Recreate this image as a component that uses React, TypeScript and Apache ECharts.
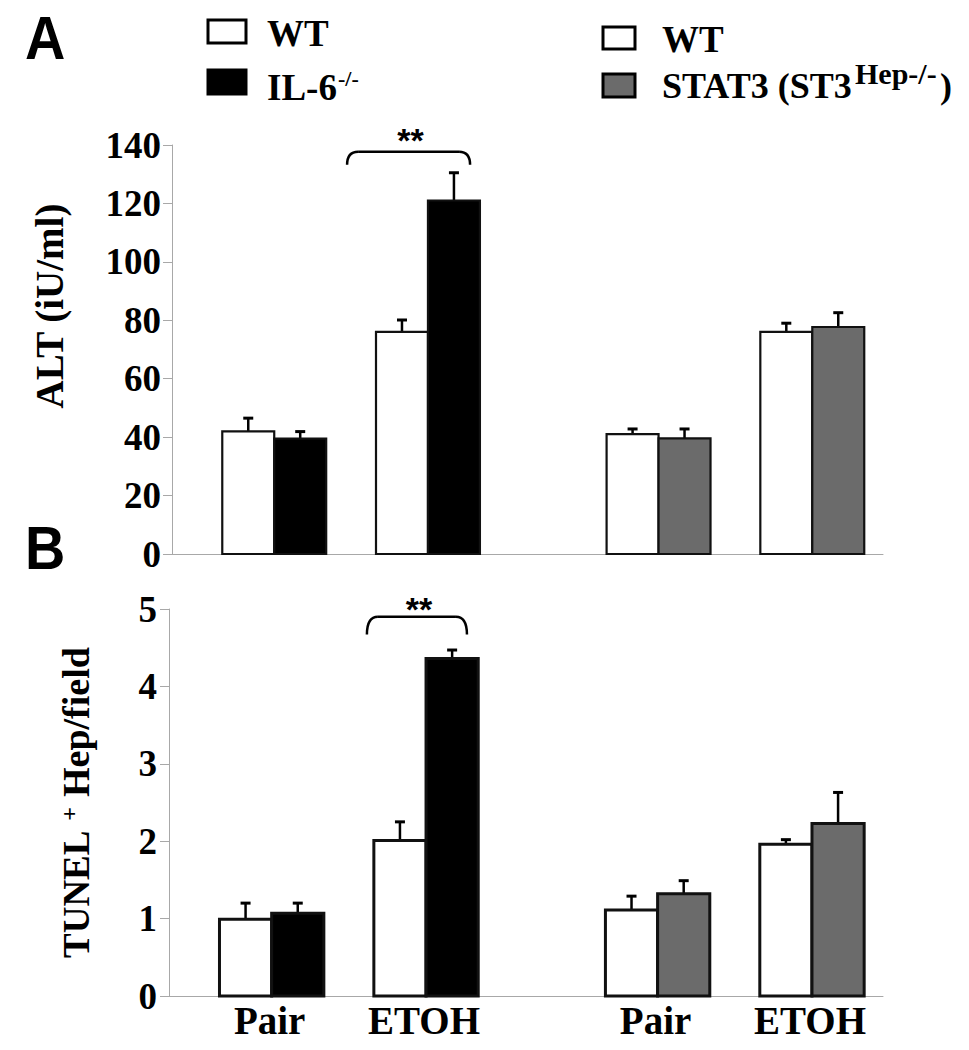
import React, { useEffect, useRef } from "react";
import * as echarts from "echarts";

// ---------- data ----------
const categories = ["Pair", "ETOH", "Pair", "ETOH"];
const groupPos = [1, 2, 3.5, 4.5];

// Panel A: ALT (iU/ml)
const altWT = [42, 76, 41, 76];
const altWTErr = [4.5, 4.1, 1.8, 3.0];
const altIL6 = [39.5, 121];
const altIL6Err = [2.4, 9.5];
const altSTAT3 = [39.6, 77.7];
const altSTAT3Err = [3.2, 4.9];

// Panel B: TUNEL+ Hep/field
const tunelWT = [0.99, 2.01, 1.11, 1.96];
const tunelWTErr = [0.21, 0.24, 0.18, 0.06];
const tunelIL6 = [1.07, 4.36];
const tunelIL6Err = [0.13, 0.11];
const tunelSTAT3 = [1.32, 2.23];
const tunelSTAT3Err = [0.17, 0.4];

// significance brackets: [xStart, xEnd, yLine, yEnd]
const sigA = [1.474, 2.274, 137.7, 133.2];
const sigB = [1.617, 2.265, 4.9, 4.67];

const altAxis = { min: 0, max: 140, interval: 20 };
const tunelAxis = { min: 0, max: 5, interval: 1 };

// ---------- styling ----------
const SERIF = '"Liberation Serif", "Times New Roman", serif';
const SANS = '"Liberation Sans", Arial, sans-serif';
const BAR_W = 0.338;
const X_MIN = 0.335;
const X_MAX = 4.96;
const AXIS_GRAY = "#a8a8a8";
const GRAY_FILL = "#6b6b6b";

function barSeries(
  name: string,
  gi: number,
  pos: number[],
  vals: number[],
  errs: number[],
  side: number,
  fill: string,
  lw: number
) {
  return {
    type: "custom",
    name,
    xAxisIndex: gi,
    yAxisIndex: gi,
    clip: false,
    encode: { x: 0, y: 1 },
    data: pos.map((p, i) => [p, vals[i], errs[i]]),
    renderItem: (params: any, api: any) => {
      const p = api.value(0);
      const v = api.value(1);
      const e = api.value(2);
      const x0 = side < 0 ? p - BAR_W : p;
      const x1 = x0 + BAR_W;
      const tl = api.coord([x0, v]);
      const br = api.coord([x1, 0]);
      const et = api.coord([(x0 + x1) / 2, v + e]);
      return {
        type: "group",
        children: [
          {
            type: "line",
            shape: { x1: et[0], y1: tl[1], x2: et[0], y2: et[1] },
            style: { stroke: "#000", lineWidth: 2.5 },
          },
          {
            type: "line",
            shape: { x1: et[0] - 5, y1: et[1], x2: et[0] + 5, y2: et[1] },
            style: { stroke: "#000", lineWidth: 3 },
          },
          {
            type: "rect",
            shape: { x: tl[0], y: tl[1], width: br[0] - tl[0], height: br[1] - tl[1] },
            style: { fill, stroke: "#111", lineWidth: lw },
          },
        ],
      };
    },
  };
}

function bracketSeries(gi: number, sig: number[], labelOffset: number) {
  return {
    type: "custom",
    xAxisIndex: gi,
    yAxisIndex: gi,
    clip: false,
    silent: true,
    data: [sig],
    renderItem: (params: any, api: any) => {
      const a = api.coord([api.value(0), api.value(3)]);
      const b = api.coord([api.value(0), api.value(2)]);
      const c = api.coord([api.value(1), api.value(2)]);
      const d = api.coord([api.value(1), api.value(3)]);
      const r = 11;
      const st = { stroke: "#000", lineWidth: 2.5, fill: "none" };
      return {
        type: "group",
        children: [
          {
            type: "bezierCurve",
            shape: { x1: a[0], y1: a[1], x2: a[0] + r, y2: b[1], cpx1: a[0], cpy1: b[1] },
            style: st,
          },
          {
            type: "line",
            shape: { x1: a[0] + r, y1: b[1], x2: d[0] - r, y2: c[1] },
            style: st,
          },
          {
            type: "bezierCurve",
            shape: { x1: d[0] - r, y1: c[1], x2: d[0], y2: d[1], cpx1: d[0], cpy1: c[1] },
            style: st,
          },
          {
            type: "text",
            x: (b[0] + c[0]) / 2 + 2,
            y: b[1] + labelOffset,
            style: {
              text: "**",
              fontFamily: SANS,
              fontWeight: "bold",
              fontSize: 34,
              fill: "#000",
              align: "center",
              verticalAlign: "middle",
            },
          },
        ],
      };
    },
  };
}

function categoryLabelSeries(gi: number) {
  return {
    type: "custom",
    xAxisIndex: gi,
    yAxisIndex: gi,
    clip: false,
    silent: true,
    data: groupPos.map((p) => [p, 0]),
    renderItem: (params: any, api: any) => {
      const pt = api.coord([api.value(0), 0]);
      return {
        type: "text",
        x: pt[0] - 2,
        y: pt[1] + 24,
        style: {
          text: categories[params.dataIndex],
          fontFamily: SERIF,
          fontWeight: "bold",
          fontSize: 39,
          fill: "#000",
          align: "center",
          verticalAlign: "middle",
        },
      };
    },
  };
}

function yAxis(gi: number, ax: { min: number; max: number; interval: number }, margin: number) {
  return {
    gridIndex: gi,
    type: "value",
    min: ax.min,
    max: ax.max,
    interval: ax.interval,
    axisLine: { show: true, lineStyle: { color: AXIS_GRAY, width: 1 } },
    axisTick: { show: true, length: 9, lineStyle: { color: AXIS_GRAY, width: 1 } },
    axisLabel: {
      fontFamily: SERIF,
      fontWeight: "bold",
      fontSize: 37,
      color: "#000",
      margin,
    },
    splitLine: { show: false },
  };
}

function xAxis(gi: number) {
  return {
    gridIndex: gi,
    type: "value",
    min: X_MIN,
    max: X_MAX,
    axisLine: { show: true, onZero: false, lineStyle: { color: AXIS_GRAY, width: 1 } },
    axisTick: { show: false },
    axisLabel: { show: false },
    splitLine: { show: false },
  };
}

function txt(
  text: string,
  x: number,
  y: number,
  size: number,
  family: string,
  align: string,
  extra: any = {}
) {
  return {
    type: "text",
    x,
    y,
    ...extra,
    style: {
      text,
      fontFamily: family,
      fontWeight: "bold",
      fontSize: size,
      fill: "#000",
      align,
      verticalAlign: "middle",
    },
  };
}

function legendBox(x: number, y: number, w: number, h: number, fill: string) {
  return {
    type: "rect",
    shape: { x, y, width: w, height: h },
    style: { fill, stroke: "#000", lineWidth: 3 },
  };
}

const option = {
  animation: false,
  backgroundColor: "#ffffff",
  grid: [
    { left: 172, top: 145, width: 711, height: 409, outerBoundsMode: "none", containLabel: false },
    { left: 169, top: 609, width: 714, height: 387, outerBoundsMode: "none", containLabel: false },
  ],
  xAxis: [xAxis(0), xAxis(1)],
  yAxis: [yAxis(0, altAxis, 11), yAxis(1, tunelAxis, 12)],
  series: [
    barSeries("WT", 0, groupPos, altWT, altWTErr, -1, "#ffffff", 2.2),
    barSeries("IL-6-/-", 0, groupPos.slice(0, 2), altIL6, altIL6Err, 1, "#000000", 2.2),
    barSeries("STAT3", 0, groupPos.slice(2), altSTAT3, altSTAT3Err, 1, GRAY_FILL, 2.2),
    barSeries("WT", 1, groupPos, tunelWT, tunelWTErr, -1, "#ffffff", 3),
    barSeries("IL-6-/-", 1, groupPos.slice(0, 2), tunelIL6, tunelIL6Err, 1, "#000000", 3),
    barSeries("STAT3", 1, groupPos.slice(2), tunelSTAT3, tunelSTAT3Err, 1, GRAY_FILL, 3),
    bracketSeries(0, sigA, -12),
    bracketSeries(1, sigB, -8),
    categoryLabelSeries(1),
  ],
  graphic: [
    // panel letters
    txt("A", 41, 37, 62, SANS, "center", { scaleX: 0.9, originX: 41, originY: 37 }),
    txt("B", 41, 547, 62, SANS, "center", { scaleX: 0.9, originX: 41, originY: 547 }),
    // left legend
    legendBox(208, 20, 38, 23, "#ffffff"),
    txt("WT", 267, 33, 37, SERIF, "left"),
    legendBox(208, 70, 38, 24, "#000000"),
    txt("IL-6", 267, 87, 37, SERIF, "left"),
    txt("-/-", 338, 78, 22, SERIF, "left"),
    // right legend
    legendBox(603, 27, 32, 22, "#ffffff"),
    txt("WT", 662, 39, 37, SERIF, "left"),
    legendBox(603, 74, 32, 23, GRAY_FILL),
    txt("STAT3 (ST3", 662, 86, 36, SERIF, "left"),
    txt("Hep-/-", 855, 73, 30, SERIF, "left"),
    txt(")", 940, 86, 36, SERIF, "left"),
    // y axis titles
    txt("ALT (iU/ml)", 49, 306, 39, SERIF, "center", { rotation: Math.PI / 2 }),
    txt("TUNEL", 76, 958, 37, SERIF, "left", { rotation: Math.PI / 2 }),
    txt("+", 69, 814, 24, SERIF, "center", { rotation: Math.PI / 2 }),
    txt("Hep/field", 76, 797, 38, SERIF, "left", { rotation: Math.PI / 2 }),
  ],
};

export default function App() {
  const ref = useRef<HTMLDivElement>(null);
  useEffect(() => {
    const chart = echarts.init(ref.current as HTMLDivElement, null, { renderer: "svg" });
    chart.setOption(option as any);
    return () => chart.dispose();
  }, []);
  return (
    <div
      ref={ref}
      style={{ position: "absolute", left: 0, top: 0, width: 969, height: 1050, background: "#fff" }}
    />
  );
}
